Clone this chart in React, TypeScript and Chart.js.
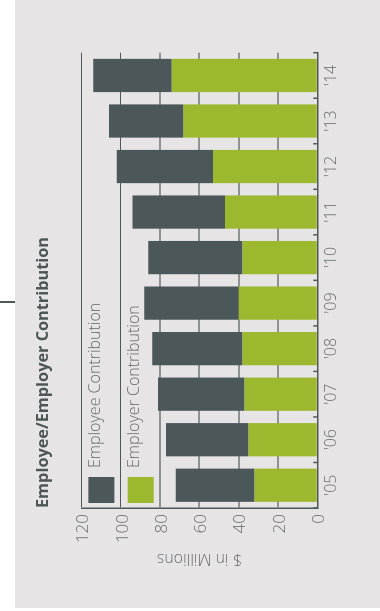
import React, { useEffect, useRef } from "react";
import { Chart, registerables } from "chart.js";

Chart.register(...registerables);

const categories = ["'05", "'06", "'07", "'08", "'09", "'10", "'11", "'12", "'13", "'14"];
const employerValues = [32, 35, 37, 38, 40, 38, 47, 53, 68, 74];
const employeeValues = [40, 42, 44, 46, 48, 48, 47, 49, 38, 40];
const seriesNames = ["Employer Contribution", "Employee Contribution"];
const chartTitle = "Employee/Employer Contribution";
const valueAxisTitle = "$ in Millions";

const GREEN = "#9cb82e";
const DARK = "#4c5759";
const TEXT = "#676c6c";
const AXIS = "#4f5858";
const GRID = "#8e9292";
const FONT = "'Open Sans', 'DejaVu Sans', sans-serif";

const W = 611;
const H = 365;

const innerTicks = {
  id: "innerTicks",
  afterDatasetsDraw(chart: any) {
    const x = chart.scales.x;
    const { ctx, chartArea } = chart;
    ctx.save();
    ctx.strokeStyle = AXIS;
    ctx.lineWidth = 1.5;
    const n = categories.length;
    for (let i = 0; i <= n; i++) {
      const px = x.left + (i * (x.right - x.left)) / n;
      ctx.beginPath();
      ctx.moveTo(px, chartArea.bottom);
      ctx.lineTo(px, chartArea.bottom - 4);
      ctx.stroke();
    }
    ctx.restore();
  },
};

const innerLegend = {
  id: "innerLegend",
  afterDraw(chart: any) {
    const { ctx, chartArea } = chart;
    const y = chart.scales.y;
    const ds = chart.data.datasets.slice().reverse();
    ctx.save();
    ds.forEach((d: any, i: number) => {
      const top = y.getPixelForValue(120 - 20 * i) + 7;
      const left = chartArea.left + 5;
      ctx.fillStyle = d.backgroundColor;
      ctx.fillRect(left, top, 26, 26);
      ctx.fillStyle = TEXT;
      ctx.font = `300 16px ${FONT}`;
      ctx.textBaseline = "alphabetic";
      ctx.textAlign = "left";
      ctx.fillText(d.label, left + 35, top + 11.8);
    });
    ctx.restore();
  },
};

export default function App() {
  const ref = useRef<HTMLCanvasElement | null>(null);

  useEffect(() => {
    if (!ref.current) return;
    const chart = new Chart(ref.current, {
      type: "bar",
      data: {
        labels: categories,
        datasets: [
          {
            label: seriesNames[0],
            data: employerValues,
            backgroundColor: GREEN,
            borderWidth: 0,
            categoryPercentage: 1,
            barPercentage: 0.73,
          },
          {
            label: seriesNames[1],
            data: employeeValues,
            backgroundColor: DARK,
            borderWidth: 0,
            categoryPercentage: 1,
            barPercentage: 0.73,
          },
        ],
      },
      options: {
        responsive: false,
        animation: false,
        events: [],
        layout: { padding: { left: 30, right: 52.7, top: 0, bottom: 38.5 } },
        plugins: {
          legend: { display: false },
          tooltip: { enabled: false },
          title: {
            display: true,
            text: chartTitle,
            align: "start",
            fullSize: false,
            color: "#4d5656",
            font: { family: FONT, size: 16.3, weight: "bold" },
            padding: { top: 19, bottom: 27.8 },
          },
        },
        scales: {
          x: {
            stacked: true,
            grid: { display: false, drawTicks: false },
            border: { display: true, color: AXIS, width: 1.5 },
            ticks: {
              color: TEXT,
              padding: 5,
              font: { family: FONT, size: 16, weight: "300" },
              maxRotation: 0,
            },
            afterFit(scale: any) {
              scale.height = 24.2;
            },
          },
          y: {
            stacked: true,
            min: 0,
            max: 120,
            grid: {
              drawTicks: false,
              color: (c: any) => (c.tick && (c.tick.value >= 100 || c.tick.value === 0) ? AXIS : GRID),
              lineWidth: (c: any) => (c.tick && (c.tick.value >= 100 || c.tick.value === 0) ? 1 : 2),
            },
            border: { display: true, color: AXIS, width: 1.5 },
            ticks: {
              stepSize: 20,
              color: TEXT,
              padding: 6,
              labelOffset: 2,
              font: { family: FONT, size: 17, weight: "300" },
            },
            title: {
              display: true,
              text: valueAxisTitle,
              color: TEXT,
              font: { family: FONT, size: 16, weight: "300" },
              padding: { top: 13, bottom: 0 },
            },
            afterFit(scale: any) {
              scale.width = 103 - 30;
            },
          },
        },
      },
      plugins: [innerTicks, innerLegend],
    });
    return () => chart.destroy();
  }, []);

  return (
    <div style={{ position: "absolute", left: 0, top: 0, width: 380, height: 611, background: "#ffffff", overflow: "hidden" }}>
      <div style={{ position: "absolute", left: 15, top: 0, width: 365, height: 608, background: "#e6e4e5" }} />
      <div style={{ position: "absolute", left: 0, top: 301, width: 15, height: 1.5, background: "#4f5858" }} />
      <canvas
        ref={ref}
        width={W}
        height={H}
        style={{
          position: "absolute",
          left: 15,
          top: 611,
          width: W,
          height: H,
          transformOrigin: "0 0",
          transform: "rotate(-90deg)",
        }}
      />
    </div>
  );
}
